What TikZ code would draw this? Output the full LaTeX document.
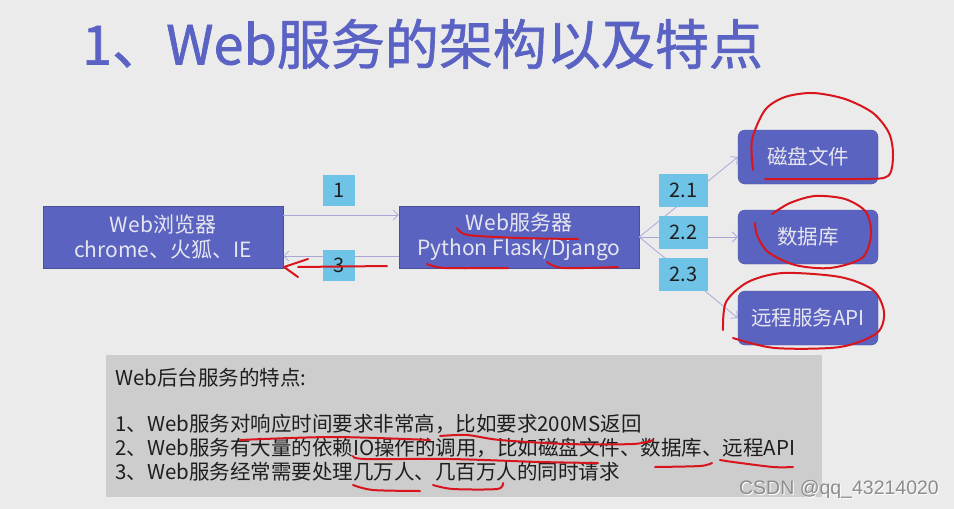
\documentclass[tikz,border=0pt]{standalone}
\usepackage{fontspec}
\setmainfont{Noto Sans CJK SC}
\newfontfamily\titlefont[FakeBold=1.2]{Noto Sans CJK SC}
\newfontfamily\wmfont{Liberation Sans}
\usetikzlibrary{arrows.meta}
\definecolor{bg}{HTML}{EBEBEB}
\definecolor{boxblue}{HTML}{5B63C0}
\definecolor{titleblue}{HTML}{5A62C3}
\definecolor{tagcyan}{HTML}{6EC3E6}
\definecolor{connc}{HTML}{A8A8D8}
\definecolor{boxtext}{HTML}{E6E6F0}
\definecolor{panelc}{HTML}{CDCDCD}
\definecolor{inkc}{HTML}{D8141C}
\definecolor{textc}{HTML}{1E1E1E}
\begin{document}
\begin{tikzpicture}[x=1pt,y=-1pt,
  mainbox/.style={draw=boxblue!80!black, fill=boxblue, text=boxtext, minimum width=240pt, minimum height=62pt, align=center, font=\fontsize{21}{25}\selectfont, inner sep=0pt, line width=0.6pt},
  resbox/.style={fill=boxblue, draw=boxblue!80!black, rounded corners=7pt, minimum width=140pt, minimum height=54pt, text=boxtext, font=\fontsize{20.5}{24}\selectfont, inner sep=0pt},
  tag/.style={fill=tagcyan, minimum width=32pt, minimum height=31pt, inner sep=0pt, font=\fontsize{20}{24}\selectfont, text=textc},
  wtag/.style={tag, minimum width=49pt, minimum height=33pt},
  connline/.style={draw=connc, line width=0.8pt, -{Straight Barb[length=5pt,width=10pt]}},
  pen/.style={draw=inkc, line width=2pt, line cap=round, line join=round},
  para/.style={anchor=west, inner sep=0pt, text=textc, font=\fontsize{20.5}{24}\selectfont},
]
\fill[bg] (0,0) rectangle (954,509);
\useasboundingbox (0,0) rectangle (954,509);

\node[anchor=west, inner sep=0pt, text=titleblue, font=\titlefont\fontsize{54}{60}\selectfont] (title) at (82,44) {1、Web服务的架构以及特点};

\node[mainbox] (browser) at (163,237) {Web浏览器\\chrome、火狐、IE};
\node[mainbox] (server) at (519,237) {Web服务器\\Python Flask/Django};
\node[resbox] (disk) at (808,157) {磁盘文件};
\node[resbox] (db) at (808,237) {数据库};
\node[resbox] (api) at (808,318) {远程服务API};

\draw[connline] ([yshift=22pt]browser.east) -- ([yshift=22pt]server.west);
\draw[connline] ([yshift=-19pt]server.west) -- ([yshift=-19pt]browser.east);
\draw[connline] (server.east) -- (disk.west);
\draw[connline] (server.east) -- (db.west);
\draw[connline] (server.east) -- (api.west);

\node[tag] (t1) at (339,190) {1};
\node[tag] (t3) at (339,265) {3};
\node[wtag] (t21) at (683.5,190.5) {2.1};
\node[wtag] (t22) at (683.5,232) {2.2};
\node[wtag] (t23) at (683.5,274.5) {2.3};

\node[fill=panelc, minimum width=716pt, minimum height=142pt, inner sep=0pt, anchor=north west] (panel) at (106,355) {};
\node[para] (l0) at (115,378) {Web后台服务的特点:};
\node[para] (l1) at (115,424) {1、Web服务对响应时间要求非常高，比如要求200MS返回};
\node[para] (l2) at (115,448) {2、Web服务有大量的依赖IO操作的调用，比如磁盘文件、数据库、远程API};
\node[para] (l3) at (115,472) {3、Web服务经常需要处理几万人、几百万人的同时请求};

% watermark
\node[text=white, font=\wmfont\fontsize{19.5}{22}\selectfont, inner sep=0pt] (wms) at (840,490) {CSDN @qq\_43214020};
\node[text=black!45, font=\wmfont\fontsize{19.5}{22}\selectfont, inner sep=0pt] (wm) at (839,489) {CSDN @qq\_43214020};

% red handwritten annotations
\draw[pen] plot[smooth] coordinates {(457,228) (468,235) (520,238) (578,239)};
\draw[pen] plot[smooth] coordinates {(427,264) (445,268) (508,268)};
\draw[pen] plot[smooth] coordinates {(547,262) (563,268) (618,267)};
\draw[pen] (387,266) -- (298,267);
\draw[pen] (308,259) -- (284,267) -- (298,277);
\draw[pen] plot[smooth] coordinates {(753,170) (752,140) (765,110) (785,97) (813,93) (845,99) (873,113) (889,133) (893,155) (888,176) (860,179) (765,179)};
\draw[pen] plot[smooth] coordinates {(772,214) (790,203) (815,196) (845,199) (866,212) (871,235) (862,258) (830,268) (795,265) (768,252) (757,235) (755,223)};
\draw[pen] plot[smooth] coordinates {(723,330) (726,302) (748,282) (783,273) (840,277) (873,290) (884,312) (877,333) (840,347) (775,348) (733,338)};
\draw[pen] plot[smooth] coordinates {(240,440) (333,437) (430,440)};
\draw[pen] plot[smooth] coordinates {(440,436) (467,435) (500,440) (567,444) (633,444) (653,440)};
\draw[pen] plot[smooth] coordinates {(353,456) (365,459) (450,459) (540,462) (598,463)};
\draw[pen] plot[smooth] coordinates {(655,467) (700,466) (712,463)};
\draw[pen] plot[smooth] coordinates {(720,460) (733,462) (773,467) (793,467)};
\draw[pen] plot[smooth] coordinates {(353,485) (373,490) (420,491)};
\draw[pen] plot[smooth] coordinates {(433,485) (453,489) (497,489) (503,483)};
\end{tikzpicture}
\end{document}
